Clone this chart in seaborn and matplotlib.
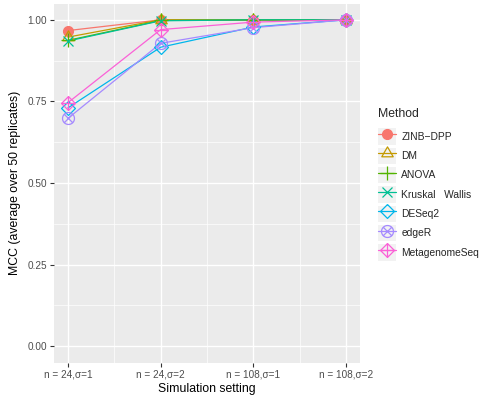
import numpy as np
import pandas as pd
import matplotlib
matplotlib.use("Agg")
import matplotlib.pyplot as plt
from matplotlib.path import Path
from matplotlib.lines import Line2D
from matplotlib.patches import Rectangle
from matplotlib.legend_handler import HandlerLine2D
import seaborn as sns

# ---- data -------------------------------------------------------------
settings = ["n = 24,\u03c3=1", "n = 24,\u03c3=2", "n = 108,\u03c3=1", "n = 108,\u03c3=2"]
methods = ["ZINB\u2212DPP", "DM", "ANOVA", "Kruskal   Wallis", "DESeq2", "edgeR", "MetagenomeSeq"]

zinb_dpp = [0.967, 1.000, 0.998, 1.000]
dm = [0.947, 1.000, 1.000, 1.000]
anova = [0.937, 0.998, 1.000, 1.000]
kruskal = [0.935, 0.997, 1.000, 1.000]
deseq2 = [0.730, 0.916, 0.978, 1.000]
edger = [0.698, 0.928, 0.976, 1.000]
metagenomeseq = [0.746, 0.970, 0.993, 1.000]

series = [zinb_dpp, dm, anova, kruskal, deseq2, edger, metagenomeseq]
palette = ["#F8766D", "#C49A00", "#53B400", "#00C094", "#00B6EB", "#A58AFF", "#FB61D7"]

df = pd.DataFrame({
    "setting": np.tile(np.arange(1, len(settings) + 1), len(methods)),
    "MCC": np.concatenate(series),
    "Method": np.repeat(methods, len(settings)),
})

# ---- marker shapes ----------------------------------------------------
def circle_cross():
    t = np.linspace(0, 2 * np.pi, 41)
    circ = np.column_stack([np.cos(t), np.sin(t)])
    d = np.sqrt(0.5)
    verts = list(circ) + [(-d, -d), (d, d), (-d, d), (d, -d)]
    codes = [Path.MOVETO] + [Path.LINETO] * 40 + [Path.MOVETO, Path.LINETO, Path.MOVETO, Path.LINETO]
    return Path(verts, codes)

def diamond_plus():
    verts = [(0, 1), (1, 0), (0, -1), (-1, 0), (0, 1), (0, 1), (0, -1), (-1, 0), (1, 0)]
    codes = [Path.MOVETO] + [Path.LINETO] * 4 + [Path.MOVETO, Path.LINETO, Path.MOVETO, Path.LINETO]
    return Path(verts, codes)

def diamond():
    verts = [(0, 1), (1, 0), (0, -1), (-1, 0), (0, 1)]
    return Path(verts, [Path.MOVETO] + [Path.LINETO] * 4)

def triangle():
    h = np.sqrt(3) / 2
    verts = [(0, 2 * h / 3), (0.5, -h / 3), (-0.5, -h / 3), (0, 2 * h / 3)]
    verts = [(x * 2, y * 2) for x, y in verts]
    return Path(verts, [Path.MOVETO, Path.LINETO, Path.LINETO, Path.CLOSEPOLY])

marker_styles = {
    methods[0]: dict(marker="o", ms=7.2, mfc=palette[0], mec=palette[0], mew=0.8),
    methods[1]: dict(marker=triangle(), ms=9.5, mfc="none", mec=palette[1], mew=0.9),
    methods[2]: dict(marker="+", ms=9.5, mfc="none", mec=palette[2], mew=0.9),
    methods[3]: dict(marker="x", ms=7.0, mfc="none", mec=palette[3], mew=0.9),
    methods[4]: dict(marker=diamond(), ms=10.0, mfc="none", mec=palette[4], mew=0.9),
    methods[5]: dict(marker=circle_cross(), ms=8.6, mfc="none", mec=palette[5], mew=0.9),
    methods[6]: dict(marker=diamond_plus(), ms=10.0, mfc="none", mec=palette[6], mew=0.9),
}

# ---- figure -----------------------------------------------------------
sns.set_theme(style="darkgrid")
plt.rcParams["font.family"] = ["Liberation Sans", "DejaVu Sans"]

fig = plt.figure(figsize=(4.82, 3.98), dpi=100)
ax = fig.add_axes([54 / 482, 1 - 362.5 / 398, (360 - 54) / 482, (362.5 - 3.5) / 398])
ax.set_facecolor("#EBEBEB")

sns.lineplot(data=df, x="setting", y="MCC", hue="Method", hue_order=methods,
             palette=palette, lw=0.9, legend=False, ax=ax, zorder=2)

for m, vals in zip(methods, series):
    ax.plot(np.arange(1, len(settings) + 1), vals, ls="none", zorder=3, **marker_styles[m])

ax.set_xlim(0.85, 4.15)
ax.set_ylim(-0.05, 1.05)
ax.set_xticks(np.arange(1, len(settings) + 1))
ax.set_xticklabels(settings)
ax.set_yticks([0, 0.25, 0.5, 0.75, 1.0])
ax.set_yticklabels(["0.00", "0.25", "0.50", "0.75", "1.00"])
ax.set_xticks([1.5, 2.5, 3.5], minor=True)
ax.set_yticks([0.125, 0.375, 0.625, 0.875], minor=True)

ax.grid(which="major", color="white", lw=1.0)
ax.grid(which="minor", color="white", lw=0.5)
ax.set_axisbelow(True)
for s in ax.spines.values():
    s.set_visible(False)

ax.tick_params(which="major", length=2.8, width=0.8, color="#333333",
               labelsize=7.2, labelcolor="#4D4D4D", pad=2, bottom=True, left=True)
ax.tick_params(which="minor", length=0)

ax.set_xlabel("Simulation setting", fontsize=8.8, color="black", labelpad=3)
ax.set_ylabel("MCC (average over 50 replicates)", fontsize=8.8, color="black", labelpad=5)

# ---- legend -----------------------------------------------------------
class KeyBox(HandlerLine2D):
    def create_artists(self, legend, orig_handle, xdescent, ydescent, width, height, fontsize, trans):
        arts = super().create_artists(legend, orig_handle, xdescent, ydescent, width, height, fontsize, trans)
        rect = Rectangle((-xdescent, -ydescent), width, height, facecolor="#F2F2F2",
                         edgecolor="none", transform=trans)
        return [rect] + list(arts)

fs = 7.4
handles = [Line2D([], [], color=c, lw=0.9, **marker_styles[m]) for m, c in zip(methods, palette)]
leg = fig.legend(handles, methods, title="Method", loc="upper left",
                 bbox_to_anchor=(378 / 482, 1 - 108 / 398), frameon=False,
                 fontsize=fs, title_fontsize=8.8, handlelength=1.8 * 7 / fs,
                 handleheight=2.2 * 7 / fs, labelspacing=0.3 * 7 / fs,
                 handletextpad=0.6 * 7 / fs, borderpad=0, borderaxespad=0,
                 numpoints=1, handler_map={Line2D: KeyBox()})
leg._legend_box.align = "left"
leg._legend_box.sep = 6

fig.savefig("out.png", dpi=100)
